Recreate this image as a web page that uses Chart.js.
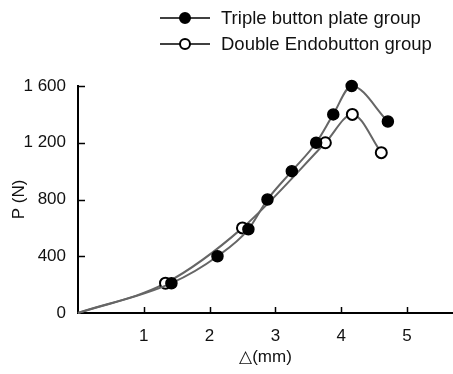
<!DOCTYPE html>
<html>
<head>
<meta charset="utf-8">
<script src="https://cdn.jsdelivr.net/npm/chart.js@4.4.0/dist/chart.umd.min.js"></script>
<style>
  html, body { margin: 0; padding: 0; background: #fff; }
  #wrap { width: 453px; height: 374px; }
</style>
</head>
<body>
<div id="wrap"><canvas id="loadChart" width="453" height="374"></canvas></div>
<script>
const tripleX = [0, 1.42, 2.12, 2.59, 2.88, 3.25, 3.62, 3.88, 4.16, 4.71];
const tripleY = [0, 210, 400, 590, 800, 1000, 1200, 1400, 1600, 1350];
const doubleX = [0, 1.33, 2.50, 3.76, 4.17, 4.61];
const doubleY = [0, 210, 600, 1200, 1400, 1130];
const xTicks = [1, 2, 3, 4, 5];
const yTicks = [0, 400, 800, 1200, 1600];
const seriesNames = ['Triple button plate group', 'Double Endobutton group'];

const FONT = 'Liberation Sans, Arial, sans-serif';
const toPts = (xs, ys) => xs.map((x, i) => ({ x: x, y: ys[i] }));
const fmt = v => String(v).replace(/\B(?=(\d{3})+(?!\d))/g, ' ');

// inward tick marks + custom legend
const extras = {
  id: 'extras',
  afterDraw(chart) {
    const c = chart.ctx;
    const { left, bottom } = chart.chartArea;
    const xs = chart.scales.x, ys = chart.scales.y;
    c.save();
    c.strokeStyle = '#000';
    c.lineWidth = 1.5;
    xTicks.forEach(v => {
      const px = Math.round(xs.getPixelForValue(v)) + 0.5;
      c.beginPath(); c.moveTo(px, bottom); c.lineTo(px, bottom - 6); c.stroke();
    });
    yTicks.slice(1).forEach(v => {
      const py = Math.round(ys.getPixelForValue(v)) + 0.5;
      c.beginPath(); c.moveTo(left, py); c.lineTo(left + 7, py); c.stroke();
    });

    // legend
    const rows = [18, 44];
    c.font = '18.5px ' + FONT;
    c.textBaseline = 'middle';
    rows.forEach((y, i) => {
      c.strokeStyle = '#000';
      c.lineWidth = 1.5;
      c.beginPath(); c.moveTo(160, y); c.lineTo(210, y); c.stroke();
      c.beginPath(); c.arc(185, y, 5, 0, Math.PI * 2);
      c.fillStyle = i === 0 ? '#000' : '#fff';
      c.fill(); c.lineWidth = 2; c.stroke();
      c.fillStyle = '#111';
      c.fillText(seriesNames[i], 221, y + 1);
    });
    c.restore();
  }
};

const markerRadius = ctx => ctx.dataIndex === 0 ? 0 : 5.5;

new Chart(document.getElementById('loadChart'), {
  type: 'scatter',
  data: {
    datasets: [
      {
        label: seriesNames[0],
        data: toPts(tripleX, tripleY),
        showLine: true,
        borderColor: '#666',
        borderWidth: 2,
        tension: 0.4,
        cubicInterpolationMode: 'monotone',
        pointRadius: markerRadius,
        pointBackgroundColor: '#000',
        pointBorderColor: '#000',
        pointBorderWidth: 1.5,
        clip: false
      },
      {
        label: seriesNames[1],
        data: toPts(doubleX, doubleY),
        showLine: true,
        borderColor: '#666',
        borderWidth: 2,
        tension: 0.4,
        cubicInterpolationMode: 'monotone',
        pointRadius: markerRadius,
        pointBackgroundColor: '#fff',
        pointBorderColor: '#000',
        pointBorderWidth: 2,
        clip: false
      }
    ]
  },
  options: {
    responsive: false,
    animation: false,
    layout: { autoPadding: false, padding: { top: 86, right: 0, left: 0, bottom: 0 } },
    plugins: { legend: { display: false }, tooltip: { enabled: false } },
    scales: {
      x: {
        type: 'linear',
        min: 0,
        max: 5.7,
        afterBuildTicks: s => { s.ticks = xTicks.map(v => ({ value: v })); },
        afterFit: s => { s.height = 61; s.paddingRight = 0; s.paddingLeft = 0; },
        grid: { display: false },
        border: { color: '#000', width: 2 },
        ticks: { color: '#111', font: { family: FONT, size: 17 }, padding: 5 },
        title: { display: true, text: '△(mm)', color: '#111', font: { family: FONT, size: 17 }, padding: { top: 0, bottom: 6 } }
      },
      y: {
        min: 0,
        max: 1600,
        afterBuildTicks: s => { s.ticks = yTicks.map(v => ({ value: v })); },
        afterFit: s => { s.width = 78; },
        grid: { display: false },
        border: { color: '#000', width: 2 },
        ticks: { color: '#111', font: { family: FONT, size: 17 }, padding: 4, callback: v => fmt(v) },
        title: { display: true, text: 'P (N)', color: '#111', font: { family: FONT, size: 17 }, padding: { top: 9, bottom: 0 } }
      }
    }
  },
  plugins: [extras]
});
</script>
</body>
</html>
